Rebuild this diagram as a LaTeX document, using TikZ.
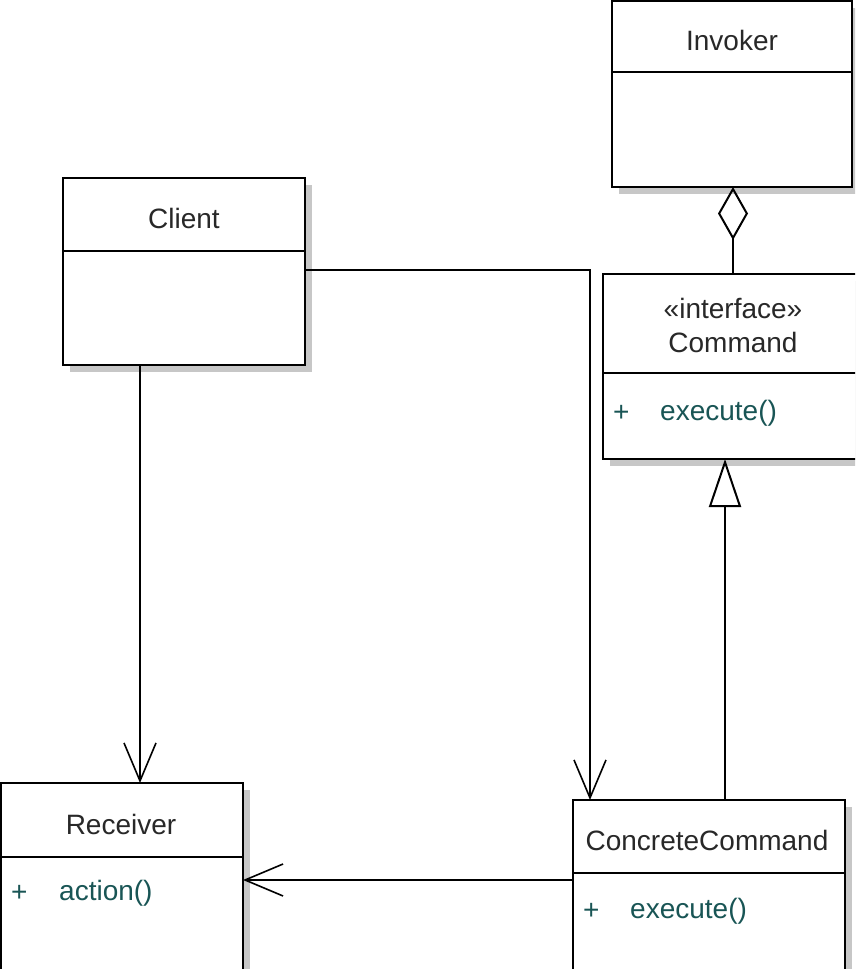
\documentclass[tikz,border=0pt]{standalone}
\usepackage{fontspec}
\setmainfont{Liberation Sans}
\usetikzlibrary{arrows.meta,calc}
\definecolor{meth}{RGB}{25,85,85}
\definecolor{ttl}{RGB}{40,40,40}
\begin{document}
\begin{tikzpicture}[x=1pt,y=-1pt,
  cls/.style={draw=black, line width=2.4pt, fill=white, anchor=north west, inner sep=0pt, outer sep=0pt},
  shadow/.style={fill=black!22},
  divider/.style={draw=black, line width=2.4pt},
  conn/.style={draw=black, line width=2pt},
  dep/.style={conn, -{Straight Barb[length=38pt,width=32pt,line width=1.6pt]}},
  gen/.style={conn, -{Triangle[open,length=48pt,width=32pt,line width=2pt]}},
  agg/.style={conn, {Diamond[open,length=53pt,width=30pt,line width=2pt]}-},
  title/.style={text=ttl, font=\fontsize{28pt}{32pt}\selectfont, inner sep=0pt},
  member/.style={text=meth, font=\fontsize{28pt}{32pt}\selectfont, inner sep=0pt, anchor=west},
]
\useasboundingbox (0,0) rectangle (855,969);
\clip (0,0) rectangle (855,969);

% shadows
\fill[shadow] (619,8) rectangle (860,194);
\fill[shadow] (70,185) rectangle (312,372);
\fill[shadow] (610,281) rectangle (870,466);
\fill[shadow] (8,790) rectangle (250,990);
\fill[shadow] (580,807) rectangle (852,1000);

% classes
\node[cls, minimum width=240pt, minimum height=186pt] (invoker) at (612,1) {};
\node[cls, minimum width=242pt, minimum height=187pt] (client) at (63,178) {};
\node[cls, minimum width=260pt, minimum height=185pt] (command) at (603,274) {};
\node[cls, minimum width=242pt, minimum height=210pt] (receiver) at (1,783) {};
\node[cls, minimum width=272pt, minimum height=200pt] (concrete) at (573,800) {};

% dividers
\draw[divider] ($(invoker.north west)+(0,71)$) -- ($(invoker.north east)+(0,71)$);
\draw[divider] ($(client.north west)+(0,73)$) -- ($(client.north east)+(0,73)$);
\draw[divider] ($(command.north west)+(0,99)$) -- ($(command.north east)+(0,99)$);
\draw[divider] ($(receiver.north west)+(0,74)$) -- ($(receiver.north east)+(0,74)$);
\draw[divider] ($(concrete.north west)+(0,73)$) -- ($(concrete.north east)+(0,73)$);

% texts
\node[title] (tinv) at (732,40) {Invoker};
\node[title] (tcli) at (184,218) {Client};
\node[title] (tster) at (733,308) {«interface»};
\node[title] (tcmd) at (733,342) {Command};
\node[title] (trec) at (121,824) {Receiver};
\node[title] (tcon) at (707,840) {ConcreteCommand};
\node[member] (p1) at (613,413) {+};
\node[member] (m1) at (660,413) {execute()};
\node[member] (p2) at (11,893) {+};
\node[member] (m2) at (59,893) {action()};
\node[member] (p3) at (583,911) {+};
\node[member] (m3) at (630,911) {execute()};

% connectors
\coordinate (ag) at ($(invoker.south west)+(121,0)$);
\draw[agg] (ag) -- (ag |- command.north);

\coordinate (gs) at ($(concrete.north west)+(152,0)$);
\draw[gen] (gs) -- (gs |- command.south);

\coordinate (cr) at ($(client.south west)+(77,0)$);
\draw[dep] (cr) -- (cr |- receiver.north);

\coordinate (cc) at ($(client.north east)+(0,92)$);
\coordinate (ct) at ($(concrete.north west)+(17,0)$);
\draw[dep] (cc) -| (ct);

\coordinate (cx) at ($(concrete.north west)+(0,80)$);
\draw[dep] (cx) -- (cx -| receiver.east);
\end{tikzpicture}
\end{document}
